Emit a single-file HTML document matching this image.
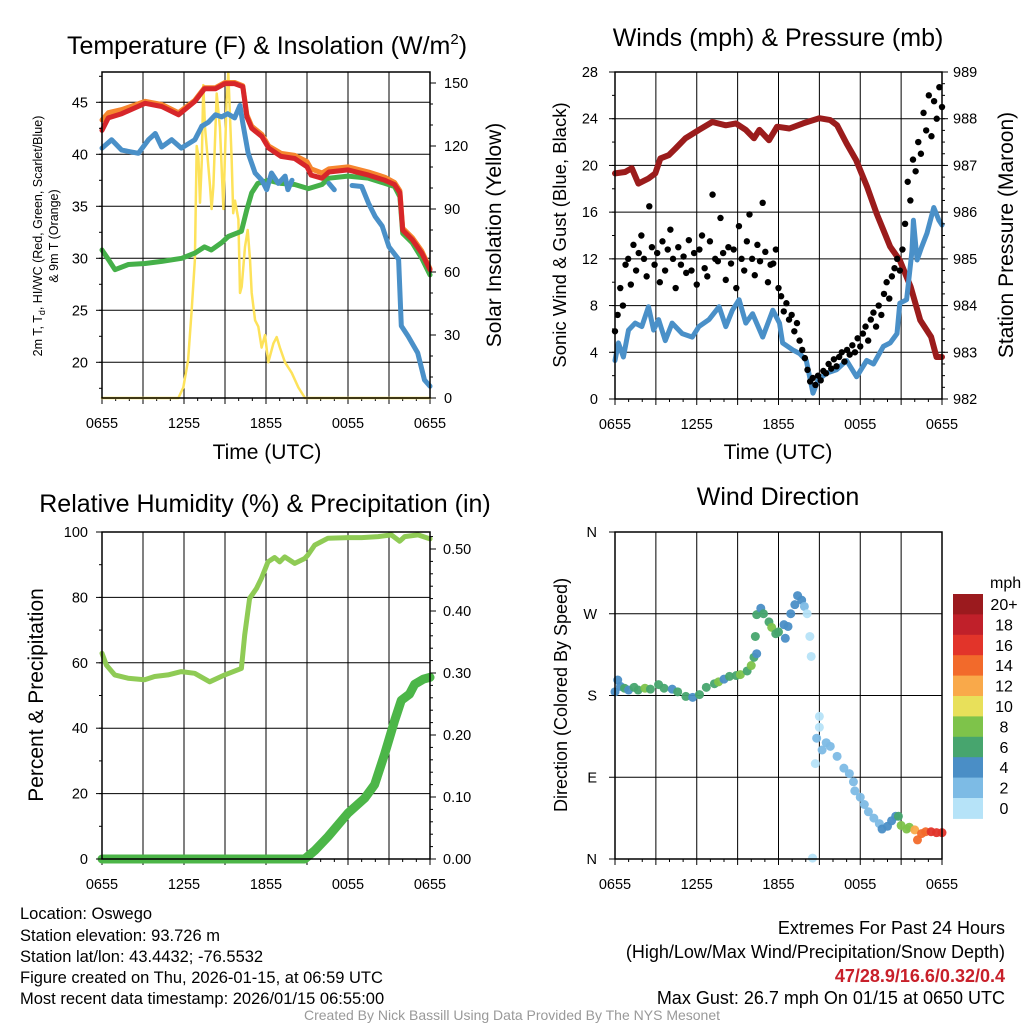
<!DOCTYPE html>
<html><head><meta charset="utf-8"><style>
html,body{margin:0;padding:0;background:#fff;}
svg{display:block;font-family:"Liberation Sans",Arial,sans-serif;}
</style></head><body>
<svg id="c" width="1024" height="1024" viewBox="0 0 1024 1024" xmlns="http://www.w3.org/2000/svg">
<rect x="0" y="0" width="1024" height="1024" fill="#fff"/>
<text x="267" y="54" font-size="25" text-anchor="middle">Temperature (F) &amp; Insolation (W/m<tspan font-size="15" dy="-10">2</tspan><tspan dy="10">)</tspan></text>
<text x="778" y="46" font-size="25" text-anchor="middle">Winds (mph) &amp; Pressure (mb)</text>
<text x="265" y="512" font-size="25" text-anchor="middle">Relative Humidity (%) &amp; Precipitation (in)</text>
<text x="778" y="505" font-size="25" text-anchor="middle">Wind Direction</text>
<text transform="translate(42,236) rotate(-90)" font-size="12.5" text-anchor="middle">2m T, T<tspan font-size="9" dy="3">d</tspan><tspan dy="-3">, HI/WC (Red, Green, Scarlet/Blue)</tspan></text>
<text transform="translate(58,236) rotate(-90)" font-size="12.5" text-anchor="middle">&amp; 9m T (Orange)</text>
<text transform="translate(501,235) rotate(-90)" font-size="21" text-anchor="middle">Solar Insolation (Yellow)</text>
<text x="267" y="459" font-size="21" text-anchor="middle">Time (UTC)</text>
<text transform="translate(566,235) rotate(-90)" font-size="18.5" text-anchor="middle">Sonic Wind &amp; Gust (Blue, Black)</text>
<text transform="translate(1013,235) rotate(-90)" font-size="21" text-anchor="middle">Station Pressure (Maroon)</text>
<text x="778" y="459" font-size="21" text-anchor="middle">Time (UTC)</text>
<text transform="translate(43,695) rotate(-90)" font-size="21" text-anchor="middle">Percent &amp; Precipitation</text>
<text transform="translate(567,695) rotate(-90)" font-size="18" text-anchor="middle">Direction (Colored By Speed)</text>
<text x="990" y="588" font-size="16" text-anchor="start">mph</text>
<g font-size="16.5">
<text x="20" y="919">Location: Oswego</text>
<text x="20" y="941">Station elevation: 93.726 m</text>
<text x="20" y="962">Station lat/lon: 43.4432; -76.5532</text>
<text x="20" y="983">Figure created on Thu, 2026-01-15, at 06:59 UTC</text>
<text x="20" y="1004">Most recent data timestamp: 2026/01/15 06:55:00</text>
</g>
<g font-size="18" text-anchor="end">
<text x="1005" y="934">Extremes For Past 24 Hours</text>
<text x="1005" y="958">(High/Low/Max Wind/Precipitation/Snow Depth)</text>
<text x="1005" y="982" fill="#c8202a" font-weight="bold">47/28.9/16.6/0.32/0.4</text>
<text x="1005" y="1004">Max Gust: 26.7 mph On 01/15 at 0650 UTC</text>
</g>
<text x="512" y="1020" font-size="14" fill="#999" text-anchor="middle">Created By Nick Bassill Using Data Provided By The NYS Mesonet</text>
</svg>
<script>
// ---- data ----
const xTickLabels = ["0655","1255","1855","0055","0655"];
const redTimes = [0,0.46,1.44,3.15,4.37,5.6,6.8,7.5,8.3,9.0,9.7,10.3,10.6,10.95,11.7,12.2,13.1,14.1,15.0,15.3,16.1,16.6,18.0,19.5,20.7,21.4,21.8,22.0,22.7,23.4,24];
const redTemp = [42.3,43.5,43.9,44.9,44.6,43.8,45.1,46.3,46.3,46.8,46.8,46.5,43.6,42.5,41.7,40.6,39.8,39.6,38.8,38.0,37.7,38.3,38.5,38.0,37.5,37.1,36.3,32.7,31.8,30.5,28.9];
const orangeTemp = [43.3,44.0,44.3,45.1,44.8,44.0,45.2,46.4,46.4,46.9,46.9,46.6,43.8,42.7,41.9,40.8,40.1,39.9,39.3,38.6,38.2,38.6,38.8,38.3,37.8,37.3,36.5,32.9,32.0,30.7,29.0];
const blueTimes = [0,0.7,1.44,2.66,3.4,3.9,4.37,5.1,5.8,6.8,7.3,7.8,8.3,8.75,9.2,9.7,10.1,10.3,10.7,11.2,11.7,12.05,12.4,12.9,13.4,13.6,13.9,15,16.6,17.0,17.5,18.3,19.0,19.5,20.0,20.5,21.0,21.7,21.9,22.4,23.1,23.6,24];
const blueTemp = [40.6,41.4,40.4,40.1,41.4,42.0,40.7,41.4,40.6,41.4,42.7,43.1,43.8,43.6,43.9,43.5,44.7,43.0,40.1,38.2,37.5,36.6,38.2,37.2,37.9,36.6,37.5,null,37.2,36.6,null,37.0,36.9,35.3,34.0,33.1,31.1,29.9,23.5,22.5,20.9,18.3,17.7];
const greenTimes = [0,0.46,0.95,1.93,3.15,4.37,5.83,6.8,7.5,8.0,8.75,9.24,10.2,10.6,10.95,11.4,12.2,13.1,14.1,15.1,16.1,16.6,18.0,19.5,20.7,21.4,21.8,22.0,22.7,23.4,24];
const greenTemp = [30.8,29.9,28.9,29.4,29.5,29.7,30.0,30.5,31.1,30.8,31.5,32.1,32.6,34.7,36.3,37.2,37.5,37.2,37.1,36.7,37.1,37.7,37.9,37.7,37.2,36.9,35.9,32.4,31.5,30.0,28.4];
const solarTimes = [0,5.59,5.95,6.3,6.56,6.8,6.93,7.05,7.17,7.3,7.41,7.54,7.9,8.02,8.15,8.39,8.63,8.88,9.12,9.24,9.49,9.6,9.73,9.98,10.1,10.22,10.46,10.66,10.83,10.95,11.2,11.44,11.68,11.93,12.17,12.54,12.78,13.02,13.39,13.88,14.37,14.85,24];
const solarVals = [0,0,5,18,42,66,120,115,93,113,149,129,101,90,101,145,129,90,142,155,113,88,94,85,50,53,72,80,66,50,37,34,24,30,17,26,29,24,17,12,5,0,0];
const presTimes = [0,0.74,1.23,1.72,2.46,2.96,3.33,3.94,4.43,5.17,6.16,7.14,8.13,8.87,9.6,10.2,10.6,11.3,11.9,12.8,13.8,15.0,15.8,16.3,17.0,17.7,18.5,19.2,20.2,20.9,21.7,22.4,23.2,23.6,24];
const presVals = [986.83,986.86,986.94,986.61,986.72,986.83,987.15,987.22,987.36,987.58,987.76,987.93,987.86,987.9,987.76,987.58,987.76,987.54,987.83,987.79,987.9,988.01,987.97,987.86,987.47,987.11,986.54,985.97,985.26,984.97,984.4,983.69,983.33,982.9,982.9];
const windTimes = [0,0.25,0.62,0.99,1.48,1.97,2.46,2.83,3.2,3.69,4.19,4.93,5.67,6.16,6.9,7.64,8.13,8.62,9.11,9.6,10.1,10.84,11.58,12.07,12.3,13.05,13.55,14.04,14.53,14.9,15.5,16.26,17.0,17.73,18.47,18.97,19.7,20.2,20.7,20.9,21.4,21.8,21.9,22.17,22.5,22.9,23.4,23.77,24];
const windVals = [3.3,4.8,3.6,5.9,6.5,6.2,7.9,5.9,6.8,5.0,6.5,5.6,5.3,6.2,6.8,7.9,6.2,7.6,8.5,6.5,7.3,5.3,7.6,6.5,4.8,4.2,3.9,3.3,0.5,1.6,2.2,2.5,3.3,1.9,3.3,3.0,4.5,4.8,5.6,8.2,8.5,12.7,15.3,11.9,13.0,14.2,16.4,15.3,14.9];
const gustVals = [5.8,7.2,9.5,8,11.5,12,9.8,13.2,11,12.5,
 14,12,10.5,16.5,13,11.5,12.5,10,13.5,11,
 12.8,14.5,12,9.5,13,11.5,12.2,10.8,13.6,11,
 12.5,9.8,12.8,14,11.2,10.5,13.5,17.5,12,11.8,
 15.5,12.5,10.2,13,11.6,12.8,9.5,14.8,12,11,
 13.5,15.8,12,10.6,13.2,11.8,16.8,12.6,10,11.5,
 11.6,12.8,9.5,8.8,7.5,8.2,6.8,7.2,5.8,6.5,
 5,4.2,3.5,2.5,1.5,1.8,1.2,2,1.6,2.4,
 2.2,3,2.6,3.4,2.8,3.6,4,3.2,4.2,3.8,
 4.6,4,5.2,4.5,5.6,6.2,5,6.8,7.4,6.2,
 8,7.2,9,10,8.6,10.5,11.2,12,11,12.8,
 15,18.6,17,20.5,19.5,22,21,24.5,23,26,
 22.5,25.5,24,26.7,25];
const rhTimes = [0,0.32,0.93,1.9,3.12,3.85,4.83,5.8,6.78,7.88,8.98,10.2,10.44,10.8,11.3,11.66,12.15,12.63,13.0,13.37,14.1,14.83,15.07,15.56,16.54,18.0,19.0,20.2,21.17,21.78,22.15,23.12,24];
const rhVals = [62.9,59.3,56.3,55.3,54.8,55.8,56.3,57.3,56.8,54.2,56.3,58.3,68.5,79.7,82.7,85.8,90.9,92.2,90.9,92.4,90.4,91.9,93,96.0,98.1,98.3,98.3,98.6,99.1,97.2,98.6,99.1,97.9];
const precipTimes = [0,14.83,15.56,16.54,18.0,19.22,19.95,20.68,21.41,21.9,22.5,22.88,23.5,24];
const precipVals = [0,0,0.0135,0.036,0.074,0.098,0.12,0.169,0.223,0.256,0.266,0.282,0.29,0.293];
const dirTimes = [0,0.2,0.4,0.7,1,1.4,1.7,2.2,2.6,3.2,3.6,4.2,4.6,5.2,5.7,6.2,6.7,7.3,7.6,8,8.4,8.9,9.2,9.7,10,10.2,10.4,10.3,10.4,10.7,10.9,11.3,11.5,11.8,12,12.4,12.7,12.5,12.9,13.2,13.4,13.7,13.9,14.1,14.3,14.4,14.5,15,15,14.8,15.2,14.7,15.5,15.8,16.3,16.8,17.2,17.5,17.6,18,18.3,18.6,19,19.4,19.6,20,20.3,20.6,20.8,21,21.4,21.6,22,22.2,22.5,22.8,23.2,23.6,24];
const dirDeg = [184,197,190,188,186,189,186,188,187,192,188,187,184,179,178,181,189,193,195,198,201,202,203,207,213,222,226,245,269,276,270,261,255,248,250,258,256,243,270,280,290,285,278,270,245,223,1,157,145,133,120,105,128,124,113,100,94,85,75,68,60,52,45,39,33,36,42,47,47,37,33,35,32,21,28,30,30,29,29];
const dirSpeed = [4,4,5,6,5,6,7,8,6,6,6,5,6,6,5,6,6,6,8,5,6,6,8,6,8,6,4,6,6,4,6,6,8,6,6,4,4,4,4,4,4,4,2,1,1,1,1,1,1,2,2,1,2,2,2,2,2,2,2,2,2,2,2,2,4,4,4,4,6,8,8,8,13,15,14,14,16,17,17];
const cbLabels = ["20+","18","16","14","12","10","8","6","4","2","0"];
const cbColors = ["#9b1a1e","#c0202a","#e2342a","#f26a2b","#f9a94a","#e8e05a","#7ec34a","#47a56e","#4a8ec6","#7dbbe5","#b6e3f8"];

// ---- drawing ----
const svg = document.getElementById('c');
const NS = 'http://www.w3.org/2000/svg';
function mk(tag, attrs, parent){
  const e = document.createElementNS(NS, tag);
  for (const k in attrs) e.setAttribute(k, attrs[k]);
  (parent || svg).appendChild(e);
  return e;
}
function lin(d0,d1,r0,r1){ return v => r0 + (v-d0)/(d1-d0)*(r1-r0); }

const P1 = {L:102,R:430,T:72,B:398};
const P2 = {L:615,R:942,T:72,B:399};
const P3 = {L:102,R:430,T:532,B:859};
const P4 = {L:615,R:942,T:532,B:859};

function frame(P, name, hGrid){
  const g = mk('g', {});
  
  
  for (let h=3; h<24; h+=3){
    const x = P.L + h/24*(P.R-P.L);
    mk('line',{x1:x,x2:x,y1:P.T,y2:P.B,stroke:'#000','stroke-width':1},g);
  }
  hGrid.forEach(y => mk('line',{x1:P.L,x2:P.R,y1:y,y2:y,stroke:'#000','stroke-width':1},g));
  for (let h=0; h<=24; h+=1){
    const x = P.L + h/24*(P.R-P.L);
    const len = h%3===0 ? 6 : 3;
    mk('line',{x1:x,x2:x,y1:P.B,y2:P.B+len,stroke:'#000','stroke-width':1},g);
  }
  xTickLabels.forEach((t,i) => {
    const x = P.L + i*6/24*(P.R-P.L);
    const tx = mk('text',{x:x,y:P.B+30,'font-size':14.5,'text-anchor':'middle'});
    tx.textContent = t;
    
    
  });
}
function border(P, name){
  const r = mk('rect',{x:P.L,y:P.T,width:P.R-P.L,height:P.B-P.T,fill:'none',stroke:'#000','stroke-width':1.5});
  
  
}
function yAxis(P, side, scale, majors, minors, fmt, name, labelX){
  const g = mk('g',{});
  
  
  const x0 = side==='L' ? P.L : P.R;
  const dir = side==='L' ? -1 : 1;
  minors.forEach(v => { const y=scale(v); mk('line',{x1:x0,x2:x0+dir*3,y1:y,y2:y,stroke:'#000'},g); });
  majors.forEach(v => {
    const y=scale(v);
    mk('line',{x1:x0,x2:x0+dir*6,y1:y,y2:y,stroke:'#000'},g);
    const t = mk('text',{x:labelX,y:y+5,'font-size':14.5,'text-anchor': side==='L'?'end':'start'},g);
    t.textContent = fmt(v);
  });
}
function series(times, vals, xs, ys, attrs, name){
  let segs=[], cur=[];
  times.forEach((t,i)=>{
    if (vals[i]===null){ if(cur.length) segs.push(cur); cur=[]; }
    else cur.push(xs(t).toFixed(1)+','+ys(vals[i]).toFixed(1));
  });
  if (cur.length) segs.push(cur);
  segs.forEach(s=>{
    const a = Object.assign({fill:'none','stroke-linejoin':'round','stroke-linecap':'round',points:s.join(' ')}, attrs);
    const p = mk('polyline', a);
    
    
  });
}
function range(a,b,s){ const r=[]; for(let v=a; v<=b+1e-9; v+=s) r.push(+v.toFixed(4)); return r; }

// Panel 1
const x1 = lin(0,24,P1.L,P1.R);
const yT = lin(45,20,102.3,362.3);
const yS = lin(0,150,398,83);
frame(P1,'temp',[20,25,30,35,40,45].map(yT));
series(solarTimes, solarVals, x1, yS, {stroke:'#fde25a','stroke-width':2.5}, 'solar-insolation-line');
series(greenTimes, greenTemp, x1, yT, {stroke:'#45b049','stroke-width':5}, 'dewpoint-line');
series(blueTimes, blueTemp, x1, yT, {stroke:'#4a90c8','stroke-width':5}, 'wind-chill-line');
series(redTimes, orangeTemp, x1, yT, {stroke:'#f6862e','stroke-width':5}, 'temp-9m-line');
series(redTimes, redTemp, x1, yT, {stroke:'#d7262a','stroke-width':5}, 'temp-2m-line');
border(P1,'temp');
yAxis(P1,'L',yT,[20,25,30,35,40,45],range(17.5,47.5,2.5),v=>v,'temp-y-axis',88);
yAxis(P1,'R',yS,[0,30,60,90,120,150],range(0,150,10),v=>v,'insolation-y-axis',444);

// Panel 2
const x2 = lin(0,24,P2.L,P2.R);
const yW = lin(0,28,P2.B,P2.T);
const yP = lin(982,989,P2.B,P2.T);
frame(P2,'wind',[4,8,12,16,20,24].map(yW));
series(presTimes, presVals, x2, yP, {stroke:'#9b1c1c','stroke-width':6}, 'pressure-line');
series(windTimes, windVals, x2, yW, {stroke:'#4a90c8','stroke-width':5}, 'sonic-wind-line');
gustVals.forEach((g,i)=>{
  const c = mk('circle',{cx:x2(i*24/(gustVals.length-1)),cy:yW(g),r:3.2,fill:'#000'});
  
  
});
border(P2,'wind');
yAxis(P2,'L',yW,range(0,28,4),range(0,28,2),v=>v,'wind-y-axis',598);
yAxis(P2,'R',yP,range(982,989,1),range(982,989,0.25),v=>v,'pressure-y-axis',953);

// Panel 3
const x3 = lin(0,24,P3.L,P3.R);
const yRH = lin(0,100,P3.B,P3.T);
const yPr = lin(0,0.1,P3.B,797);
frame(P3,'rh',[20,40,60,80].map(yRH));
series(rhTimes, rhVals, x3, yRH, {stroke:'#8fcb55','stroke-width':5}, 'rh-line');
series(precipTimes, precipVals, x3, yPr, {stroke:'#4cb648','stroke-width':9}, 'precip-line');
border(P3,'rh');
yAxis(P3,'L',yRH,range(0,100,20),range(0,100,10),v=>v,'rh-y-axis',88);
yAxis(P3,'R',yPr,range(0,0.5,0.1),range(0,0.52,0.02),v=>v.toFixed(2),'precip-y-axis',443);

// Panel 4
const x4 = lin(0,24,P4.L,P4.R);
const yD = lin(0,360,P4.B,P4.T);
frame(P4,'direction',[90,180,270].map(yD));
function spdColor(s){ const idx = Math.min(10, Math.floor(s/2)); return cbColors[10-idx]; }
dirTimes.forEach((t,i)=>{
  const c = mk('circle',{cx:x4(t),cy:yD(dirDeg[i]),r:4.5,fill:spdColor(dirSpeed[i]),'fill-opacity':0.95});
  
  
});
border(P4,'direction');
const dirLabels = ["N","E","S","W","N"];
const gD = mk('g',{});


dirLabels.forEach((l,i)=>{
  const y = yD(i*90);
  mk('line',{x1:P4.L,x2:P4.L-6,y1:y,y2:y,stroke:'#000'},gD);
  const t = mk('text',{x:597,y:y+5,'font-size':14.5,'text-anchor':'end'},gD);
  t.textContent = l;
});

// Colorbar
const cbTop = 594, cbH = 20.4;
cbColors.forEach((col,i)=>{
  const r = mk('rect',{x:953,y:cbTop+i*cbH,width:30,height:cbH+0.5,fill:col});
  
  
  const t = mk('text',{x:1004,y:cbTop+i*cbH+16,'font-size':16,'text-anchor':'middle'});
  t.textContent = cbLabels[i];
  
  
});
</script>
</body></html>
